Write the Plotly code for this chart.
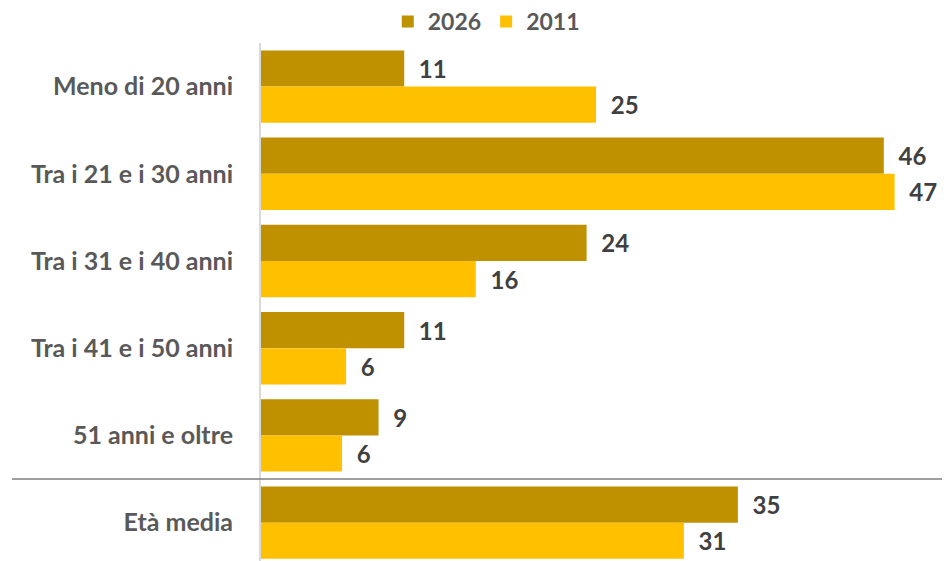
import plotly.graph_objects as go

categories = ["Meno di 20 anni", "Tra i 21 e i 30 anni", "Tra i 31 e i 40 anni",
              "Tra i 41 e i 50 anni", "51 anni e oltre", "Età media"]
series_names = ["2026", "2011"]
values_2026 = [10.6, 46.1, 24.1, 10.6, 8.7, 35.3]
values_2011 = [24.8, 46.9, 15.9, 6.3, 6.0, 31.3]
colors = ["#BF9000", "#FFC000"]

FONT = "Lato, Open Sans, sans-serif"
label_font = dict(family=FONT, size=24, color="#404040", weight=700)

fig = go.Figure()
for name, vals, col in zip(series_names, [values_2026, values_2011], colors):
    fig.add_trace(go.Bar(
        y=categories, x=vals, name=name, orientation="h",
        marker=dict(color=col, line=dict(width=0)),
        texttemplate="\u00a0\u00a0%{x:.0f}", textposition="outside",
        textfont=label_font, cliponaxis=False, hoverinfo="skip",
    ))

fig.update_layout(
    width=942, height=553,
    margin=dict(l=253, r=0, t=30, b=0),
    paper_bgcolor="white", plot_bgcolor="white",
    barmode="group", bargap=0.17, bargroupgap=0,
    showlegend=True,
    legend=dict(orientation="h", x=0.184, xanchor="left", y=0.9756, yanchor="middle",
                yref="container",
                font=dict(family=FONT, size=23, color="#595959", weight=700),
                itemwidth=30, traceorder="normal"),
    xaxis=dict(range=[0, 51.0], visible=False, fixedrange=True),
    yaxis=dict(categoryorder="array", categoryarray=categories,
               range=[5.44, -0.5], showline=True, linecolor="#D9D9D9", linewidth=2,
               showgrid=False, zeroline=False, ticks="outside", ticklen=21,
               tickcolor="rgba(0,0,0,0)",
               tickfont=dict(family=FONT, size=25, color="#595959", weight=700)),
    font=dict(family=FONT),
    shapes=[dict(type="line", xref="paper", yref="y",
                 x0=(12 - 261) / 689, x1=1.0, y0=4.5, y1=4.5,
                 line=dict(color="#7F7F7F", width=1.5))],
)

fig.write_html("out.html")
